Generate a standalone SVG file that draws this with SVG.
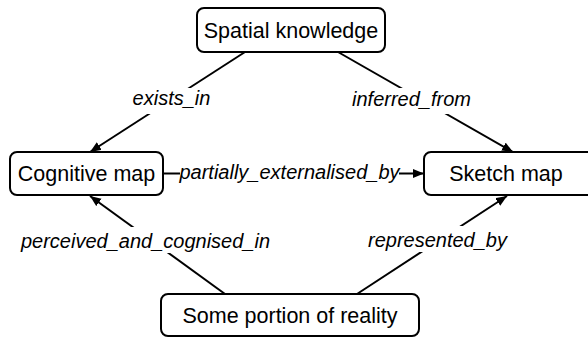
<svg xmlns="http://www.w3.org/2000/svg" width="588" height="338" viewBox="0 0 588 338">
  <style>
    .box { fill: #fff; stroke: #000; stroke-width: 2; }
    .node { font-family: "Liberation Sans", Arial, sans-serif; font-size: 21.5px; fill: #000; text-anchor: middle; }
    .edge { stroke: #000; stroke-width: 2; fill: none; }
    .lbl { font-family: "Liberation Sans", Arial, sans-serif; font-size: 20px; font-style: italic; fill: #000; text-anchor: middle; }
    .bg { fill: #fff; }
  </style>
  <defs>
    <marker id="arrow" markerUnits="userSpaceOnUse" markerWidth="12" markerHeight="10" refX="11" refY="4.5" orient="auto">
      <path d="M0,0 L11,4.5 L0,9 z" fill="#000"/>
    </marker>
  </defs>
  <rect width="588" height="338" fill="#fff"/>

  <g id="connectors">
    <line class="edge" x1="245" y1="52" x2="90" y2="152" marker-end="url(#arrow)"/>
    <line class="edge" x1="338" y1="52" x2="513" y2="152" marker-end="url(#arrow)"/>
    <line class="edge" x1="225" y1="294" x2="90" y2="196" marker-end="url(#arrow)"/>
    <line class="edge" x1="357" y1="294" x2="507" y2="196" marker-end="url(#arrow)"/>
    <line class="edge" x1="163" y1="173.5" x2="180" y2="173.5"/>
    <line class="edge" x1="399" y1="173.5" x2="424" y2="173.5" marker-end="url(#arrow)"/>

    <rect class="bg" x="129" y="88" width="86" height="26"/>
    <text class="lbl" x="171.5" y="105">exists_in</text>
    <rect class="bg" x="349" y="88" width="126" height="26"/>
    <text class="lbl" x="411.5" y="106">inferred_from</text>
    <text class="lbl" x="289.5" y="179">partially_externalised_by</text>
    <rect class="bg" x="19" y="227" width="253" height="26"/>
    <text class="lbl" x="145.5" y="248">perceived_and_cognised_in</text>
    <rect class="bg" x="365" y="226" width="145" height="26"/>
    <text class="lbl" x="437.5" y="247">represented_by</text>
  </g>

  <g id="spatial-knowledge">
    <rect class="box" x="197" y="8" width="188" height="44" rx="7"/>
    <text class="node" x="291" y="37.5">Spatial knowledge</text>
  </g>
  <g id="cognitive-map">
    <rect class="box" x="10" y="152" width="153" height="43" rx="7"/>
    <text class="node" x="86.5" y="181">Cognitive map</text>
  </g>
  <g id="sketch-map">
    <rect class="box" x="424" y="152" width="170" height="43" rx="7"/>
    <text class="node" x="506" y="181">Sketch map</text>
  </g>
  <g id="some-portion-of-reality">
    <rect class="box" x="161" y="294" width="258" height="42" rx="7"/>
    <text class="node" x="290" y="323">Some portion of reality</text>
  </g>
</svg>
